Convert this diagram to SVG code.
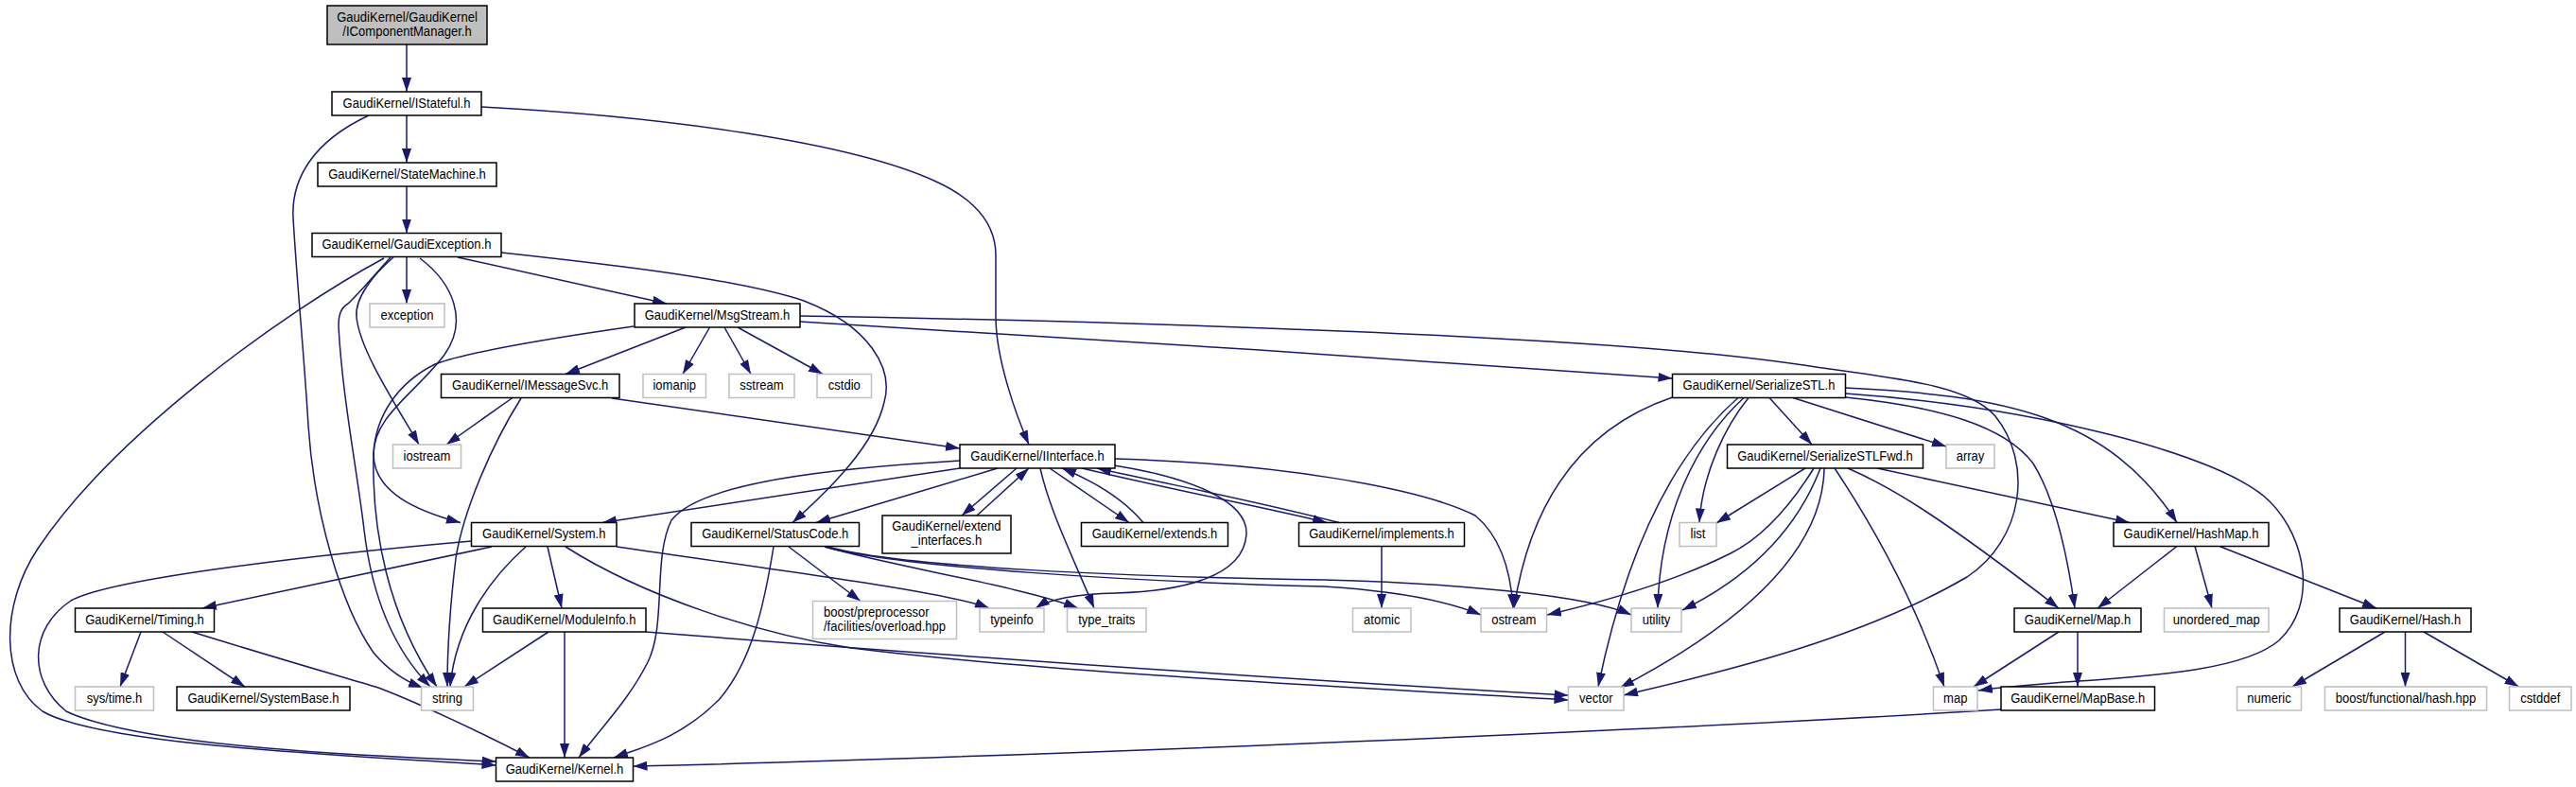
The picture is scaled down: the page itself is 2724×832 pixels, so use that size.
<svg xmlns="http://www.w3.org/2000/svg" width="2724" height="832" viewBox="0 0 2724 832">
<defs>
<marker id="arr" markerUnits="userSpaceOnUse" markerWidth="15" markerHeight="10" refX="15" refY="5" orient="auto">
<path d="M0,0 L15,5 L0,10 z" fill="#191970"/>
</marker>
<style>
.n rect{fill:#fff;stroke:#000;stroke-width:1.5}
.x rect{fill:#fff;stroke:#bfbfbf;stroke-width:1.5}
text{font-family:"Liberation Sans",Arial,Helvetica,sans-serif;font-size:15px;text-anchor:middle;fill:#000;transform:scaleX(0.87);transform-box:fill-box;transform-origin:50% 50%}
text.l{text-anchor:start;transform-origin:0% 50%}
#edges path{fill:none;stroke:#191970;stroke-width:1.5;marker-end:url(#arr)}
</style>
</defs>
<rect x="0" y="0" width="2724" height="832" fill="#fff"/>
<g id="edges">
<path d="M430,47 L430,97"/>
<path d="M430,122 L430,172"/>
<path d="M390,122 C330,150 308,190 310,230 C314,300 322,380 326,450 C332,540 360,640 395,690 C410,708 428,720 447,727"/>
<path d="M509,113 C700,123 900,150 990,192 C1040,215 1053,245 1053,270 L1053,335 C1053,380 1075,440 1088,470"/>
<path d="M430,197 L430,246.5"/>
<path d="M430,271.5 L430,321"/>
<path d="M484,272 L705,321"/>
<path d="M530,267 C650,280 780,295 850,318 C920,345 945,390 935,425 C925,470 880,515 838,552.5"/>
<path d="M406,273 C300,330 120,460 40,580 C0,640 0,720 45,752 C110,790 400,800 524.5,809"/>
<path d="M413,272 C395,292 378,312 368,321 C360,326 358,333 358,345 C362,420 378,500 385,560 C392,620 410,680 455,726"/>
<path d="M416,272 C395,290 375,315 377,335 C380,370 420,430 443,470"/>
<path d="M444,273 C480,300 495,340 470,375 C440,415 395,440 395,480 C395,520 440,540 487,552.5"/>
<path d="M670,345 C600,355 500,370 460,385 C420,405 397,440 395,480 C393,560 410,650 462,726"/>
<path d="M725,346 L598,395.5"/>
<path d="M750.5,346 L722,395.5"/>
<path d="M766,346 L794,395.5"/>
<path d="M780,346 L870,395.5"/>
<path d="M846,340 C1100,355 1500,380 1768.5,400"/>
<path d="M846,334 C1200,340 1700,355 1900,385 C2000,400 2080,405 2110,440 C2150,490 2140,570 2080,610 C1960,680 1800,715 1717,735"/>
<path d="M1951.5,410 C2120,418 2230,440 2302,552.5"/>
<path d="M1951.5,416 C2150,430 2350,480 2400,530 C2440,570 2450,640 2410,677 C2360,720 2200,715 2092,730"/>
<path d="M1951.5,420 C2050,430 2120,450 2150,490 C2175,530 2188,600 2194,643"/>
<path d="M1896,420.5 L2058,472"/>
<path d="M1871,420.5 L1916,470"/>
<path d="M1849,420.5 C1825,450 1800,500 1797,552.5"/>
<path d="M1844,420.5 C1790,470 1755,550 1753,643"/>
<path d="M1838,420.5 C1770,480 1720,580 1690,726"/>
<path d="M1768.5,420 C1680,450 1620,520 1601,643"/>
<path d="M1909,495 L1815,553"/>
<path d="M1918,495 C1890,540 1860,570 1830,585 C1770,615 1700,635 1636,650"/>
<path d="M1925,495 C1900,560 1850,610 1779,645"/>
<path d="M1929,495 C1928,560 1880,640 1713,727"/>
<path d="M1940,495 C1990,570 2030,650 2056,726"/>
<path d="M1954,495 C2000,515 2050,545 2177,643"/>
<path d="M1985,495 L2252,552.5"/>
<path d="M2302,577.5 L2218,643"/>
<path d="M2321,577.5 L2339,643"/>
<path d="M2347,577.5 L2513,643"/>
<path d="M2177,668 L2087,726"/>
<path d="M2197,668 L2197,726"/>
<path d="M2116,750 C1800,770 1100,800 669.5,810"/>
<path d="M2522,668 L2424,726"/>
<path d="M2543.5,668 L2543.5,726"/>
<path d="M2563,668 L2663.5,726"/>
<path d="M149,668 L127,726"/>
<path d="M172,668 L259,726"/>
<path d="M203,668 C290,695 360,715 400,727 C440,742 510,775 560,801"/>
<path d="M580,668 L491,726"/>
<path d="M597,668 L597,801"/>
<path d="M683,668 C900,685 1300,715 1658.5,735"/>
<path d="M598,578 C680,630 800,670 900,685 C1100,710 1400,725 1658.5,740"/>
<path d="M652,578 C800,600 1000,625 1046,643"/>
<path d="M520,578 L214,643"/>
<path d="M579,578 L594,643"/>
<path d="M556,578 C520,610 482,660 476,726"/>
<path d="M499,572 C350,585 120,610 75,635 C30,665 30,720 70,752 C150,790 400,800 524.5,805"/>
<path d="M1015,495 L637,552.5"/>
<path d="M1055,495 L863,552.5"/>
<path d="M1075,495 L1017,545"/>
<path d="M1033,545 L1088,495"/>
<path d="M1110,495 L1194,552.5"/>
<path d="M1209,552.5 C1190,530 1160,510 1123,495"/>
<path d="M1144,495 C1250,520 1340,537 1403,552.5"/>
<path d="M1416,552.5 C1330,530 1250,515 1160,495"/>
<path d="M1178,492 C1260,505 1320,530 1318,565 C1315,610 1250,625 1180,627 C1140,628 1110,633 1095,643"/>
<path d="M1100,495 C1110,540 1135,590 1157,643"/>
<path d="M1179,485 C1350,490 1500,515 1560,545 C1590,570 1598,610 1600,643"/>
<path d="M1015,487 C880,495 740,510 710,550 C690,590 705,660 685,700 C665,740 635,770 612,801"/>
<path d="M818,578 C808,640 795,700 760,740 C720,780 680,790 649,801"/>
<path d="M834,578 L910,635.5"/>
<path d="M872,578 C950,600 1080,620 1140,643"/>
<path d="M876,578 C950,600 1200,610 1400,613 C1550,617 1680,630 1725,650"/>
<path d="M872,578 C950,600 1200,615 1400,620 C1480,625 1530,635 1566,650"/>
<path d="M542,420.5 L472,470"/>
<path d="M551,421 C520,470 490,540 482,590 C476,640 473,690 473,726"/>
<path d="M647,421 L1015,474"/>
<path d="M1461,577.5 L1461,643"/>
</g>
<g id="n_icm"><rect x="346" y="6" width="169" height="41" style="fill:#bfbfbf;stroke:#000;stroke-width:1.5"/><text x="430.5" y="23">GaudiKernel/GaudiKernel</text><text x="430.5" y="38">/IComponentManager.h</text></g>
<g id="n_istateful" class="n"><rect x="351" y="97" width="158" height="25"/><text x="430" y="113.7">GaudiKernel/IStateful.h</text></g>
<g id="n_statemachine" class="n"><rect x="336" y="172" width="189" height="25"/><text x="430.5" y="188.7">GaudiKernel/StateMachine.h</text></g>
<g id="n_gaudiexception" class="n"><rect x="330" y="246.5" width="200" height="25"/><text x="430" y="263.2">GaudiKernel/GaudiException.h</text></g>
<g id="n_exception" class="x"><rect x="391" y="321" width="79" height="25"/><text x="430.5" y="337.7">exception</text></g>
<g id="n_msgstream" class="n"><rect x="671" y="321" width="175" height="25"/><text x="758.5" y="337.7">GaudiKernel/MsgStream.h</text></g>
<g id="n_imessagesvc" class="n"><rect x="466.5" y="395.5" width="188.5" height="25"/><text x="560.75" y="412.2">GaudiKernel/IMessageSvc.h</text></g>
<g id="n_iomanip" class="x"><rect x="680" y="395.5" width="66.5" height="25"/><text x="713.25" y="412.2">iomanip</text></g>
<g id="n_sstream" class="x"><rect x="771" y="395.5" width="69" height="25"/><text x="805.5" y="412.2">sstream</text></g>
<g id="n_cstdio" class="x"><rect x="864" y="395.5" width="57.5" height="25"/><text x="892.75" y="412.2">cstdio</text></g>
<g id="n_serializestl" class="n"><rect x="1768.5" y="395.5" width="183" height="25"/><text x="1860" y="412.2">GaudiKernel/SerializeSTL.h</text></g>
<g id="n_iostream" class="x"><rect x="415.5" y="470" width="72" height="25"/><text x="451.5" y="486.7">iostream</text></g>
<g id="n_iinterface" class="n"><rect x="1015" y="470" width="164" height="25"/><text x="1097" y="486.7">GaudiKernel/IInterface.h</text></g>
<g id="n_serializestlfwd" class="n"><rect x="1826.5" y="470" width="207" height="25"/><text x="1930" y="486.7">GaudiKernel/SerializeSTLFwd.h</text></g>
<g id="n_array" class="x"><rect x="2058" y="470" width="51" height="25"/><text x="2083.5" y="486.7">array</text></g>
<g id="n_system" class="n"><rect x="498.5" y="552.5" width="153.5" height="25"/><text x="575.25" y="569.2">GaudiKernel/System.h</text></g>
<g id="n_statuscode" class="n"><rect x="731" y="552.5" width="177.5" height="25"/><text x="819.75" y="569.2">GaudiKernel/StatusCode.h</text></g>
<g id="n_extend_interfaces" class="n"><rect x="933" y="545" width="136" height="40"/><text x="1001" y="561.5">GaudiKernel/extend</text><text x="1001" y="576.5">_interfaces.h</text></g>
<g id="n_extends" class="n"><rect x="1143.5" y="552.5" width="155" height="25"/><text x="1221" y="569.2">GaudiKernel/extends.h</text></g>
<g id="n_implements" class="n"><rect x="1373.5" y="552.5" width="175" height="25"/><text x="1461" y="569.2">GaudiKernel/implements.h</text></g>
<g id="n_list" class="x"><rect x="1776" y="552.5" width="39" height="25"/><text x="1795.5" y="569.2">list</text></g>
<g id="n_hashmap" class="n"><rect x="2235" y="552.5" width="164" height="25"/><text x="2317" y="569.2">GaudiKernel/HashMap.h</text></g>
<g id="n_timing" class="n"><rect x="79.5" y="643" width="147" height="25"/><text x="153" y="659.7">GaudiKernel/Timing.h</text></g>
<g id="n_moduleinfo" class="n"><rect x="510.5" y="643" width="172.5" height="25"/><text x="596.75" y="659.7">GaudiKernel/ModuleInfo.h</text></g>
<g id="n_boostpp" class="x"><rect x="859.5" y="635.5" width="152" height="40"/><text class="l" x="871" y="652">boost/preprocessor</text><text class="l" x="871" y="667">/facilities/overload.hpp</text></g>
<g id="n_typeinfo" class="x"><rect x="1036" y="643" width="68" height="25"/><text x="1070" y="659.7">typeinfo</text></g>
<g id="n_type_traits" class="x"><rect x="1128.5" y="643" width="83.5" height="25"/><text x="1170.25" y="659.7">type_traits</text></g>
<g id="n_atomic" class="x"><rect x="1430.5" y="643" width="61.5" height="25"/><text x="1461.25" y="659.7">atomic</text></g>
<g id="n_ostream" class="x"><rect x="1566" y="643" width="69.5" height="25"/><text x="1600.75" y="659.7">ostream</text></g>
<g id="n_utility" class="x"><rect x="1725" y="643" width="53" height="25"/><text x="1751.5" y="659.7">utility</text></g>
<g id="n_map_h" class="n"><rect x="2130" y="643" width="134" height="25"/><text x="2197" y="659.7">GaudiKernel/Map.h</text></g>
<g id="n_unordered_map" class="x"><rect x="2288.5" y="643" width="110.5" height="25"/><text x="2343.75" y="659.7">unordered_map</text></g>
<g id="n_hash" class="n"><rect x="2474" y="643" width="139" height="25"/><text x="2543.5" y="659.7">GaudiKernel/Hash.h</text></g>
<g id="n_systime" class="x"><rect x="79.5" y="726" width="83" height="25"/><text x="121" y="742.7">sys/time.h</text></g>
<g id="n_systembase" class="n"><rect x="187" y="726" width="183" height="25"/><text x="278.5" y="742.7">GaudiKernel/SystemBase.h</text></g>
<g id="n_string" class="x"><rect x="445.5" y="726" width="55" height="25"/><text x="473" y="742.7">string</text></g>
<g id="n_vector" class="x"><rect x="1658.5" y="726" width="58.5" height="25"/><text x="1687.75" y="742.7">vector</text></g>
<g id="n_map" class="x"><rect x="2044.5" y="726" width="46.5" height="25"/><text x="2067.75" y="742.7">map</text></g>
<g id="n_mapbase" class="n"><rect x="2116" y="726" width="162.5" height="25"/><text x="2197.25" y="742.7">GaudiKernel/MapBase.h</text></g>
<g id="n_numeric" class="x"><rect x="2365.5" y="726" width="68" height="25"/><text x="2399.5" y="742.7">numeric</text></g>
<g id="n_boostfunc" class="x"><rect x="2458.5" y="726" width="171" height="25"/><text x="2544" y="742.7">boost/functional/hash.hpp</text></g>
<g id="n_cstddef" class="x"><rect x="2653.5" y="726" width="65.5" height="25"/><text x="2686.25" y="742.7">cstddef</text></g>
<g id="n_kernel" class="n"><rect x="524.5" y="801" width="145" height="25"/><text x="597" y="817.7">GaudiKernel/Kernel.h</text></g>
</svg>
